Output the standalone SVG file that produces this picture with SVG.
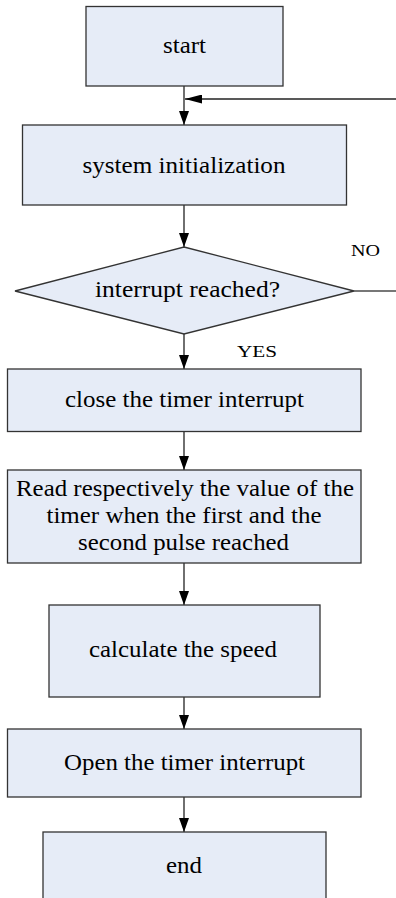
<svg xmlns="http://www.w3.org/2000/svg" width="396" height="898" viewBox="0 0 396 898">
  <style>
    .box { fill: #E6ECF7; stroke: #333333; stroke-width: 1.3; }
    .lbl { font-family: "Liberation Serif", "Times New Roman", serif; font-size: 23.5px; fill: #000; text-anchor: middle; }
    .tag { font-family: "Liberation Serif", "Times New Roman", serif; font-size: 16.5px; fill: #000; }
    .wire { fill: none; stroke: #222; stroke-width: 1.3; }
    .wire-grey { fill: none; stroke: #777; stroke-width: 1.8; }
  </style>
  <defs>
    <marker id="arrow" markerUnits="userSpaceOnUse" viewBox="0 0 14 10" refX="14" refY="5" markerWidth="14" markerHeight="10" orient="auto">
      <path d="M0,0 L14,5 L0,10 Z" fill="#000"/>
    </marker>
    <marker id="arrow-side" markerUnits="userSpaceOnUse" viewBox="0 0 17 9" refX="17" refY="4.5" markerWidth="17" markerHeight="9" orient="auto">
      <path d="M0,0 L17,4.5 L0,9 Z" fill="#000"/>
    </marker>
  </defs>

  <!-- connectors -->
  <g id="connectors">
    <path class="wire" d="M184,86 V125" marker-end="url(#arrow)"/>
    <path class="wire" d="M396,99 H185" marker-end="url(#arrow-side)"/>
    <path class="wire" d="M184,205 V247" marker-end="url(#arrow)"/>
    <path class="wire-grey" d="M354,291 H396"/>
    <path class="wire" d="M184,334 V369" marker-end="url(#arrow)"/>
    <path class="wire" d="M184,432 V470" marker-end="url(#arrow)"/>
    <path class="wire" d="M184,563 V605" marker-end="url(#arrow)"/>
    <path class="wire" d="M184,697 V729" marker-end="url(#arrow)"/>
    <path class="wire" d="M184,797 V832" marker-end="url(#arrow)"/>
    <text class="tag" x="351" y="256" textLength="29" lengthAdjust="spacingAndGlyphs">NO</text>
    <text class="tag" x="237" y="357" textLength="40" lengthAdjust="spacingAndGlyphs">YES</text>
  </g>

  <g id="start">
    <rect class="box" x="86" y="6.5" width="197" height="79.5"/>
    <text class="lbl" x="184.5" y="53" textLength="43" lengthAdjust="spacingAndGlyphs">start</text>
  </g>

  <g id="init">
    <rect class="box" x="22.5" y="125" width="324" height="80"/>
    <text class="lbl" x="184" y="173" textLength="203" lengthAdjust="spacingAndGlyphs">system initialization</text>
  </g>

  <g id="check">
    <polygon class="box" points="184,247 354,291 184,334 15,291"/>
    <text class="lbl" x="187.5" y="297" textLength="185" lengthAdjust="spacingAndGlyphs">interrupt reached?</text>
  </g>

  <g id="close-timer">
    <rect class="box" x="7.5" y="369" width="353.5" height="62.5"/>
    <text class="lbl" x="184.5" y="407" textLength="239" lengthAdjust="spacingAndGlyphs">close the timer interrupt</text>
  </g>

  <g id="read-timer">
    <rect class="box" x="7.5" y="470" width="353.5" height="93"/>
    <text class="lbl" x="185" y="496" textLength="338" lengthAdjust="spacingAndGlyphs">Read respectively the value of the</text>
    <text class="lbl" x="184" y="523" textLength="275" lengthAdjust="spacingAndGlyphs">timer when the first and the</text>
    <text class="lbl" x="183.5" y="550" textLength="211" lengthAdjust="spacingAndGlyphs">second pulse reached</text>
  </g>

  <g id="calc-speed">
    <rect class="box" x="49" y="605" width="271" height="92"/>
    <text class="lbl" x="183" y="657" textLength="188" lengthAdjust="spacingAndGlyphs">calculate the speed</text>
  </g>

  <g id="open-timer">
    <rect class="box" x="7.5" y="729" width="353.5" height="68"/>
    <text class="lbl" x="184.5" y="770" textLength="241" lengthAdjust="spacingAndGlyphs">Open the timer interrupt</text>
  </g>

  <g id="end">
    <rect class="box" x="43" y="832" width="283" height="80"/>
    <text class="lbl" x="184" y="873" textLength="36" lengthAdjust="spacingAndGlyphs">end</text>
  </g>
</svg>
